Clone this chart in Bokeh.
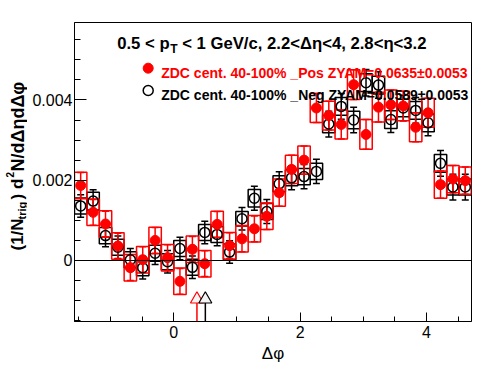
import numpy as np
from bokeh.plotting import figure
from bokeh.layouts import row
from bokeh.models import ColumnDataSource, Label, Span, SingleIntervalTicker, CustomJSTickFormatter, Range1d
from bokeh.embed import file_html
from bokeh.resources import INLINE

# ---------------- data (values in units of 1e-3) ----------------
dphi = [-1.473, -1.276, -1.080, -0.884, -0.687, -0.491, -0.295, -0.098,
        0.098, 0.295, 0.491, 0.687, 0.884, 1.080, 1.276, 1.473,
        1.669, 1.865, 2.062, 2.258, 2.454, 2.651, 2.847, 3.043,
        3.240, 3.436, 3.632, 3.829, 4.025, 4.222, 4.418, 4.614]

pos_val = [1.87, 1.20, 0.91, 0.36, -0.18, 0.02, 0.50, 0.07,
           -0.52, 0.28, -0.08, 0.90, 0.37, 0.54, 0.79, 1.10,
           1.69, 2.27, 2.50, 3.80, 3.61, 3.39, 4.38, 3.14,
           3.82, 3.88, 3.85, 3.32, 3.68, 1.89, 2.03, 1.99]
pos_stat = [0.32, 0.32, 0.32, 0.32, 0.32, 0.32, 0.32, 0.32,
            0.32, 0.32, 0.32, 0.32, 0.32, 0.32, 0.32, 0.33,
            0.34, 0.35, 0.35, 0.36, 0.36, 0.36, 0.37, 0.37,
            0.37, 0.37, 0.37, 0.36, 0.36, 0.34, 0.34, 0.34]
pos_sys = [0.33, 0.33, 0.33, 0.33, 0.33, 0.33, 0.33, 0.33,
           0.33, 0.33, 0.33, 0.33, 0.33, 0.33, 0.33, 0.33,
           0.34, 0.35, 0.35, 0.36, 0.36, 0.36, 0.37, 0.37,
           0.37, 0.37, 0.37, 0.36, 0.36, 0.34, 0.34, 0.34]

neg_val = [1.36, 1.48, 0.62, 0.33, 0.02, -0.18, 0.18, -0.03,
           0.30, -0.17, 0.70, 0.65, 0.21, 1.04, 1.55, 1.22,
           1.91, 2.06, 2.09, 2.22, 3.40, 3.84, 3.50, 4.43,
           4.37, 3.51, 3.80, 3.74, 3.43, 2.42, 1.83, 1.83]
neg_stat = [0.28, 0.28, 0.28, 0.28, 0.28, 0.28, 0.28, 0.28,
            0.28, 0.28, 0.28, 0.28, 0.28, 0.28, 0.30, 0.30,
            0.30, 0.30, 0.30, 0.30, 0.32, 0.32, 0.32, 0.33,
            0.33, 0.32, 0.32, 0.32, 0.32, 0.32, 0.32, 0.32]
neg_sys = [0.20, 0.22, 0.20, 0.20, 0.20, 0.20, 0.20, 0.20,
           0.20, 0.20, 0.20, 0.20, 0.20, 0.18, 0.22, 0.20,
           0.20, 0.20, 0.20, 0.20, 0.22, 0.22, 0.22, 0.22,
           0.22, 0.22, 0.22, 0.22, 0.22, 0.22, 0.20, 0.20]

zyam_x = [0.367, 0.500]          # ZYAM minimum positions (Pos, Neg)
zyam_marker_y = [-0.966, -0.966]
zyam_line_top = [-1.054, -1.054]
zyam_colors = ["#ff0000", "#000000"]

pos_label = "ZDC cent. 40-100% _Pos ZYAM=0.0635\u00b10.0053"
neg_label = "ZDC cent. 40-100% _Neg ZYAM=0.0589\u00b10.0053"

SC = 1e-3
BINW = np.pi / 16
RED = "#ff0000"
FONT = "Liberation Sans"

# ---------------- geometry (page pixels) ----------------
PAGE_W, PAGE_H = 496, 374
LW = 27                       # width of the strip holding the y title
FL, FT, FR, FB = 74, 22, 471, 321   # frame edges on the page
X0, X1 = -np.pi / 2, 3 * np.pi / 2
Y0, Y1 = -0.00152, 0.00593


def dx(px):
    return X0 + (px - FL) / (FR - FL) * (X1 - X0)


def dy(py):
    return Y1 - (py - FT) / (FB - FT) * (Y1 - Y0)


p = figure(width=PAGE_W - LW, height=PAGE_H, output_backend="svg", toolbar_location=None,
           x_range=Range1d(X0, X1), y_range=Range1d(Y0, Y1),
           min_border_left=FL - LW, min_border_right=PAGE_W - FR,
           min_border_top=FT, min_border_bottom=PAGE_H - FB)
p.grid.visible = False
p.outline_line_color = "black"
p.outline_line_width = 1
p.background_fill_color = "white"
p.border_fill_color = "white"

p.xaxis.ticker = SingleIntervalTicker(interval=2, num_minor_ticks=4)
p.yaxis.ticker = SingleIntervalTicker(interval=0.002, num_minor_ticks=4)
p.yaxis.formatter = CustomJSTickFormatter(code="""
  if (Math.abs(tick) < 1e-12) return '0';
  return tick.toFixed(3);
""")
for ax, mj, mn in ((p.xaxis, 9, 5), (p.yaxis, 12, 6)):
    ax.major_tick_in = mj
    ax.major_tick_out = 0
    ax.minor_tick_in = mn
    ax.minor_tick_out = 0
    ax.axis_line_color = "black"
    ax.major_tick_line_color = "black"
    ax.minor_tick_line_color = "black"
    ax.major_label_text_font = FONT
    ax.major_label_text_font_size = "16px"
    ax.major_label_text_color = "black"
p.xaxis.major_label_standoff = 4
p.yaxis.major_label_standoff = 2
p.xaxis.axis_label = "\u0394\u03c6"
p.xaxis.axis_label_text_font = FONT
p.xaxis.axis_label_text_font_size = "17px"
p.xaxis.axis_label_text_font_style = "normal"
p.xaxis.axis_label_text_color = "black"
p.xaxis.axis_label_standoff = 3

# zero line
p.add_layout(Span(location=0, dimension="width", line_color="black", line_width=1.2))


def series(vals, stat, sys, color):
    x = np.array(dphi)
    v = np.array(vals) * SC
    st = np.array(stat) * SC
    sy = np.array(sys) * SC
    src = ColumnDataSource(dict(x=x, y=v, lo=v - st, hi=v + st, h=2 * sy,
                                cl=x - 0.055, cr=x + 0.055))
    p.rect(x="x", y="y", width=BINW, height="h", source=src, fill_alpha=0,
           line_color=color, line_width=1.5)
    p.segment(x0="x", y0="lo", x1="x", y1="hi", source=src, line_color=color, line_width=1.5)
    p.segment(x0="cl", y0="lo", x1="cr", y1="lo", source=src, line_color=color, line_width=1.5)
    p.segment(x0="cl", y0="hi", x1="cr", y1="hi", source=src, line_color=color, line_width=1.5)
    return src


nsrc = series(neg_val, neg_stat, neg_sys, "black")
psrc = series(pos_val, pos_stat, pos_sys, RED)
p.scatter(x="x", y="y", source=nsrc, marker="circle", size=10, fill_alpha=0,
          line_color="black", line_width=1.5)
p.scatter(x="x", y="y", source=psrc, marker="circle", size=10, fill_color=RED,
          line_color=RED, line_width=1)

# ZYAM arrows
asrc = ColumnDataSource(dict(x=zyam_x, y=np.array(zyam_marker_y) * SC,
                             top=np.array(zyam_line_top) * SC,
                             bot=[Y0] * len(zyam_x), c=zyam_colors))
p.segment(x0="x", y0="bot", x1="x", y1="top", source=asrc, line_color="c", line_width=1.5)
p.scatter(x="x", y="y", source=asrc, marker="triangle", size=13, fill_color="#f4f4f4",
          line_color="c", line_width=1.2)

# legend
p.scatter([dx(147.7)], [dy(67.7)], marker="circle", size=10, fill_color=RED, line_color=RED)
p.scatter([dx(147.7)], [dy(90)], marker="circle", size=10, fill_alpha=0, line_color="black",
          line_width=1.5)
p.add_layout(Label(x=dx(160.7), y=dy(72.3), text=pos_label, text_font=FONT,
                   text_font_style="bold", text_font_size="14px", text_color=RED,
                   text_align="left", text_baseline="alphabetic"))
p.add_layout(Label(x=dx(160.7), y=dy(94.3), text=neg_label, text_font=FONT,
                   text_font_style="bold", text_font_size="14px", text_color="black",
                   text_align="left", text_baseline="alphabetic"))

# title (with subscript T)
TS = 16.7
pieces = [("0.5 < p", TS, 0, 3.141 + 0.03), ("T", 12, 5.8, 0.611 + 0.278 * 16.7 / 12),
          ("< 1 GeV/c, 2.2<\u0394\u03b7<4, 2.8<\u03b7<3.2", TS, 0, 0)]
cx = 116.7
for txt, fs, shift, em in pieces:
    p.add_layout(Label(x=dx(cx), y=dy(42.7 + shift), text=txt, text_font=FONT,
                       text_font_style="bold", text_font_size=f"{fs}px", text_color="black",
                       text_align="left", text_baseline="alphabetic"))
    cx += em * fs

# ---------------- strip holding the rotated y title ----------------
# (the row aligns this strip's frame with the main frame: page y FT..FB)
pl = figure(width=LW, height=PAGE_H, output_backend="svg", toolbar_location=None,
            x_range=Range1d(0, LW), y_range=Range1d(FB, FT),
            x_axis_location=None, y_axis_location=None,
            min_border_left=0, min_border_right=0, min_border_top=FT,
            min_border_bottom=PAGE_H - FB)
pl.outline_line_color = None
pl.background_fill_color = "white"
pl.border_fill_color = "white"
pl.grid.visible = False

# (1/N_trig) d^2N/dΔηdΔφ : (text, font px, baseline x, start y)
ypieces = [("(1/N", 17, 17.0, 250), ("trig", 11, 21.5, 219), (") d", 17, 17.0, 199),
           ("2", 10, 9.5, 177), ("N/d\u0394\u03b7d\u0394\u03c6", 18, 17.0, 171)]
for txt, fs, bx, sy0 in ypieces:
    pl.add_layout(Label(x=bx, y=sy0, text=txt, text_font=FONT,
                        text_font_style="bold", text_font_size=f"{fs}px", text_color="black",
                        text_align="left", text_baseline="alphabetic", angle=np.pi / 2))

layout = row(pl, p)
open("out.html", "w").write(file_html(layout, INLINE))
